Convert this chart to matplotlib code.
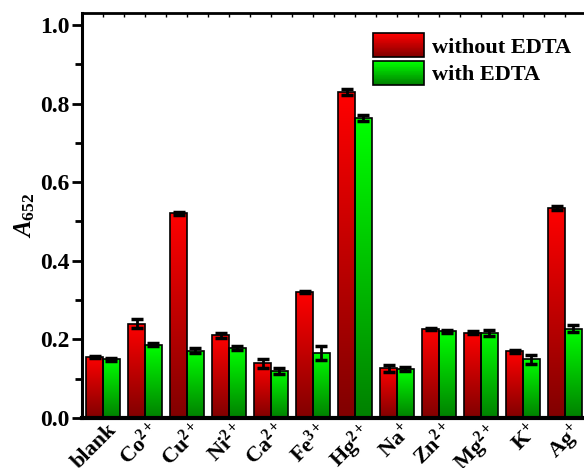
import numpy as np
import matplotlib
matplotlib.use("Agg")
import matplotlib.pyplot as plt
from matplotlib.patches import Rectangle
from matplotlib.legend_handler import HandlerBase
from matplotlib.ticker import MultipleLocator
from matplotlib.transforms import ScaledTranslation

plt.rcParams["font.family"] = ["Liberation Serif", "DejaVu Serif"]
plt.rcParams["font.weight"] = "bold"
plt.rcParams["mathtext.fontset"] = "custom"
plt.rcParams["mathtext.rm"] = "Liberation Serif"
plt.rcParams["mathtext.it"] = "Liberation Serif:italic:bold"
plt.rcParams["mathtext.bf"] = "Liberation Serif:bold"

ions = ["blank", "Co$^{2+}$", "Cu$^{2+}$", "Ni$^{2+}$", "Ca$^{2+}$", "Fe$^{3+}$",
        "Hg$^{2+}$", "Na$^{+}$", "Zn$^{2+}$", "Mg$^{2+}$", "K$^{+}$", "Ag$^{+}$"]
without_edta = [0.156, 0.240, 0.521, 0.210, 0.139, 0.320, 0.829, 0.127, 0.226, 0.217, 0.170, 0.534]
without_err = [0.003, 0.011, 0.004, 0.006, 0.011, 0.002, 0.008, 0.009, 0.003, 0.004, 0.004, 0.005]
with_edta = [0.149, 0.187, 0.171, 0.177, 0.120, 0.166, 0.763, 0.124, 0.221, 0.217, 0.149, 0.227]
with_err = [0.003, 0.004, 0.006, 0.005, 0.007, 0.018, 0.008, 0.005, 0.004, 0.008, 0.012, 0.009]

red_cols = ("#800000", "#ff0000")
green_cols = ("#008000", "#00ff00")


def grad_cmap(cols):
    return matplotlib.colors.LinearSegmentedColormap.from_list("g", list(cols))


class GradHandler(HandlerBase):
    def __init__(self, cols):
        super().__init__()
        self.cols = cols

    def create_artists(self, legend, orig_handle, xdescent, ydescent, width, height, fontsize, trans):
        arts = []
        cm = grad_cmap(self.cols)
        n = 30
        y0 = -ydescent
        h = height / n
        for k in range(n):
            arts.append(Rectangle((-xdescent, y0 + k * h), width, h * 1.05, facecolor=cm(k / (n - 1)),
                                  edgecolor="none", transform=trans))
        arts.append(Rectangle((-xdescent, y0), width, height, facecolor="none",
                              edgecolor="black", lw=1.2, transform=trans))
        return arts


fig = plt.figure(figsize=(5.84, 4.68), dpi=100)
ax = fig.add_axes([82 / 584, 50 / 468, 508 / 584, 405 / 468])

x = np.arange(len(ions))
w = 0.4
grad = np.linspace(0, 1, 256).reshape(-1, 1)


def gradient_bars(xpos, vals, errs, cols):
    bars = ax.bar(xpos, vals, w, facecolor="none", edgecolor="black", lw=1.2, zorder=3)
    cm = grad_cmap(cols)
    for b in bars:
        bx, by = b.get_x(), b.get_y()
        bw, bh = b.get_width(), b.get_height()
        im = ax.imshow(grad, extent=(bx, bx + bw, by, by + bh), origin="lower",
                       cmap=cm, aspect="auto", zorder=2)
        im.set_clip_path(b)
    ax.errorbar(xpos, vals, yerr=errs, fmt="none", ecolor="black", elinewidth=2,
                capsize=4.5, capthick=2.5, zorder=4)
    return bars


b1 = gradient_bars(x - w / 2, without_edta, without_err, red_cols)
b2 = gradient_bars(x + w / 2, with_edta, with_err, green_cols)

ax.set_xlim(-0.5, 11.595)
ax.set_ylim(0, 1.0305)

ax.yaxis.set_minor_locator(MultipleLocator(0.1))
ax.set_yticks(np.arange(0, 1.01, 0.2))
ax.set_yticklabels([f"{v:.1f}" for v in np.arange(0, 1.01, 0.2)], fontsize=17, fontweight="bold")
ax.tick_params(axis="y", which="major", direction="out", length=7, width=2, pad=2)
ax.tick_params(axis="y", which="minor", direction="out", length=5, width=2)

ax.set_xticks(x)
ax.set_xticks(x + 0.5, minor=True)
ax.set_xticklabels(ions, rotation=45, ha="right", va="top", rotation_mode="anchor",
                   fontsize=16, fontweight="bold")
ax.tick_params(axis="x", which="both", bottom=False, top=True, direction="in", length=3, width=1)
ax.tick_params(axis="x", which="major", pad=1)
shift = ScaledTranslation(4 / 100, 0, fig.dpi_scale_trans)
for lab in ax.get_xticklabels():
    lab.set_transform(lab.get_transform() + shift)

ax.spines["left"].set_linewidth(2.2)
ax.spines["bottom"].set_linewidth(3)
ax.spines["top"].set_linewidth(2)
ax.spines["right"].set_visible(False)

ax.set_ylabel(r"$\mathit{A}_{\mathbf{652}}$", fontsize=18, labelpad=2)

h1 = Rectangle((0, 0), 1, 1)
h2 = Rectangle((0, 0), 1, 1)
ax.legend([h1, h2], ["without EDTA", "with EDTA"],
          handler_map={h1: GradHandler(red_cols), h2: GradHandler(green_cols)},
          loc="upper left", bbox_to_anchor=(373 / 584, 1 - 33 / 468),
          bbox_transform=fig.transFigure, frameon=False,
          handlelength=2.3, handleheight=1.3, handletextpad=0.35,
          labelspacing=0.15, borderpad=0, borderaxespad=0,
          prop={"weight": "bold", "size": 16})

fig.savefig("out.png", dpi=100)
